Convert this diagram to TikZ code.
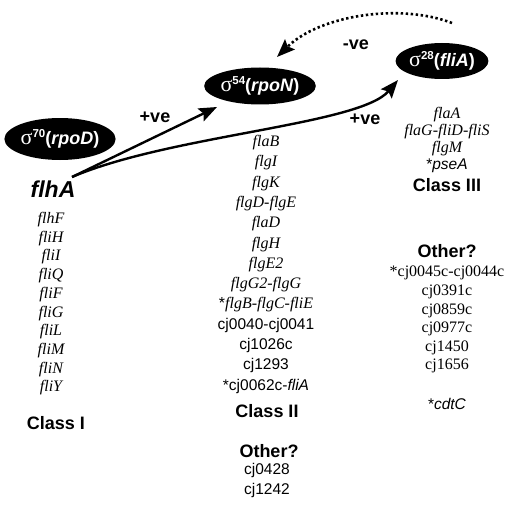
\documentclass[tikz,border=0pt]{standalone}
\usepackage{fontspec}
\setmainfont{Liberation Serif}
\setsansfont{Liberation Sans}
\usetikzlibrary{shapes.geometric,arrows.meta}
\newcommand{\sigm}[1]{{\rmfamily\mdseries\fontsize{22}{22}\selectfont σ}\raisebox{7.5pt}{\fontsize{11.5}{11.5}\selectfont #1}}
\begin{document}
\begin{tikzpicture}[x=1pt,y=-1pt,
  sig/.style={ellipse, fill=black, text=white, inner sep=0pt, font=\sffamily\bfseries\fontsize{18}{18}\selectfont},
  gene/.style={anchor=base, inner sep=0pt, font=\rmfamily\itshape\fontsize{16}{16}\selectfont},
  sgene/.style={anchor=base, inner sep=0pt, font=\sffamily\fontsize{15.5}{15.5}\selectfont},
  rgene/.style={anchor=base, inner sep=0pt, font=\rmfamily\fontsize{16}{16}\selectfont},
  cls/.style={anchor=base, inner sep=0pt, font=\sffamily\bfseries\fontsize{18}{18}\selectfont},
  lbl/.style={inner sep=0pt, font=\sffamily\bfseries\fontsize{18}{18}\selectfont},
  arr/.style={line width=2.4pt, -{Stealth[length=18pt,width=14pt,inset=3pt]}},
  dotarr/.style={line width=2.6pt, dash pattern=on 2.4pt off 2.6pt, -{Stealth[length=18pt,width=14pt,inset=3pt]}}
]
\useasboundingbox (0,0) rectangle (508,508);

% sigma factors
\node[sig, minimum width=97pt, minimum height=42pt] (s70) at (60,139) {\sigm{70}(\textit{rpoD})};
\node[sig, minimum width=96pt, minimum height=37pt] (s54) at (260,86) {\sigm{54}(\textit{rpoN})};
\node[sig, minimum width=88pt, minimum height=36pt] (s28) at (442,61) {\sigm{28}(\textit{fliA})};

% flhA
\node[inner sep=0pt, font=\sffamily\bfseries\itshape\fontsize{23}{23}\selectfont] (flhA) at (53,189) {flhA};

% connectors
\coordinate (S) at (72,177);
\coordinate (t54) at (217,107);
\coordinate (t28) at (398,80);
\coordinate (d0) at (452,23);
\coordinate (d1) at (277,57);
\draw[arr] (S) -- (t54);
\draw[arr] (S) .. controls (170,135) and (360,125) .. (t28);
\draw[dotarr] (d0) .. controls (400,3) and (320,15) .. (d1);

\node[lbl] (pv1) at (155,117) {+ve};
\node[lbl] (pv2) at (365,119) {+ve};
\node[lbl] (nv) at (356,45) {-ve};

% Class I
\foreach \g [count=\i from 0] in {flhF,fliH,fliI,fliQ,fliF,fliG,fliL,fliM,fliN,fliY}
  \node[gene] (c1-\i) at (51,{223.5+18.7*\i}) {\g};
\node[cls] (class1) at (56,429) {Class I};

% Class II
\foreach \g [count=\i from 0] in {flaB,flgI,flgK,flgD-flgE,flaD,flgH,flgE2,flgG2-flgG}
  \node[gene] (c2-\i) at (266,{146.5+20.3*\i}) {\g};
\node[gene] (c2-8) at (266,{146.5+20.3*8}) {{\sffamily\upshape *}flgB-flgC-fliE};
\node[sgene] (c2-9) at (266,{146.5+20.3*9}) {cj0040-cj0041};
\node[sgene] (c2-10) at (266,{146.5+20.3*10}) {cj1026c};
\node[sgene] (c2-11) at (266,{146.5+20.3*11}) {cj1293};
\node[sgene] (c2-12) at (266,{146.5+20.3*12}) {*cj0062c-\textit{fliA}};
\node[cls] (class2) at (267,417) {Class II};
\node[cls] (other2) at (269,457) {Other?};
\node[sgene] (o2-0) at (267,474.5) {cj0428};
\node[sgene] (o2-1) at (267,494.5) {cj1242};

% Class III
\node[gene] (c3-0) at (447,118.5) {flaA};
\node[gene] (c3-1) at (447,135.5) {flaG-fliD-fliS};
\node[gene] (c3-2) at (447,152.5) {flgM};
\node[sgene] (c3-3) at (447,169.5) {*\textit{pseA}};
\node[cls] (class3) at (447,191) {Class III};
\node[cls] (other3) at (447,257) {Other?};
\node[rgene] (o3-0) at (447,276.5) {*cj0045c-cj0044c};
\foreach \g [count=\i from 1] in {cj0391c,cj0859c,cj0977c,cj1450,cj1656}
  \node[rgene] (o3-\i) at (447,{277+18.5*\i}) {\g};
\node[sgene] (o3-6) at (447,409.5) {*\textit{cdtC}};
\end{tikzpicture}
\end{document}
